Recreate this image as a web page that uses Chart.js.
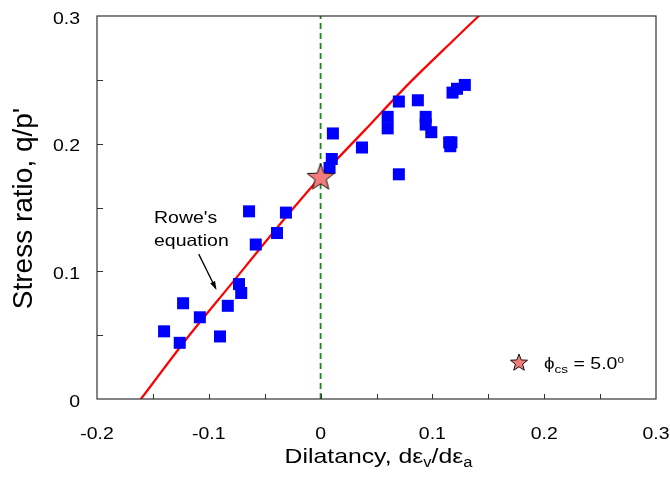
<!DOCTYPE html>
<html>
<head>
<meta charset="utf-8">
<script src="https://cdn.jsdelivr.net/npm/chart.js@4/dist/chart.umd.min.js"></script>
<style>
  body { margin: 0; background: #fff; }
</style>
</head>
<body>
<canvas id="myChart" width="670" height="487"></canvas>
<script>
// measured points (dilatancy vs stress ratio)
const dilatancy = [-0.140, -0.126, -0.123, -0.108, -0.090, -0.083, -0.073, -0.071, -0.064, -0.058,
                   -0.039, -0.031, 0.008, 0.010, 0.011, 0.037, 0.060, 0.060, 0.070, 0.070,
                   0.087, 0.094, 0.094, 0.099, 0.115, 0.117, 0.116, 0.118, 0.122, 0.129];
const stressRatio = [0.053, 0.044, 0.075, 0.064, 0.049, 0.073, 0.090, 0.083, 0.147, 0.121,
                     0.130, 0.146, 0.181, 0.188, 0.208, 0.197, 0.212, 0.221, 0.233, 0.176,
                     0.234, 0.221, 0.215, 0.209, 0.201, 0.201, 0.198, 0.240, 0.243, 0.246];

// Rowe's equation curve
const roweD = [-0.165, -0.12, -0.08, -0.04, 0, 0.04, 0.08, 0.12, 0.145];
const roweQ = [-0.005, 0.047, 0.090, 0.133, 0.174, 0.211, 0.248, 0.282, 0.303];

// critical state point
const csD = [0];
const csQ = [0.174];

// zero dilatancy line
const zeroD = [0, 0];
const zeroQ = [0, 0.3];

const xLabels = [-0.2, -0.1, 0, 0.1, 0.2, 0.3];
const yLabels = [0, 0.1, 0.2, 0.3];
const xMinor = [-0.15, -0.1, -0.05, 0, 0.05, 0.1, 0.15, 0.2, 0.25];
const yMinor = [0.05, 0.1, 0.15, 0.2, 0.25];

const FONT = '"Liberation Sans", Arial, sans-serif';
const SX = 1.18; // text in the picture is a bit wide

function toPoints(xs, ys) {
  return xs.map((x, i) => ({ x: x, y: ys[i] }));
}

function starPath(ctx, cx, cy, R, r) {
  ctx.beginPath();
  for (let i = 0; i < 10; i++) {
    let a = -Math.PI / 2 + i * Math.PI / 5;
    let rad = i % 2 ? r : R;
    let px = cx + rad * Math.cos(a);
    let py = cy + rad * Math.sin(a);
    if (i == 0) ctx.moveTo(px, py); else ctx.lineTo(px, py);
  }
  ctx.closePath();
}

function drawStar(ctx, cx, cy, R) {
  starPath(ctx, cx, cy, R, R * 0.42);
  ctx.fillStyle = '#f37b7b';
  ctx.fill();
  ctx.lineWidth = 1;
  ctx.strokeStyle = '#111';
  ctx.stroke();
}

let starImg = document.createElement('canvas');
starImg.width = 32;
starImg.height = 32;
drawStar(starImg.getContext('2d'), 16, 17, 14);

function wideText(ctx, str, x, y, size, align) {
  ctx.save();
  ctx.font = size + 'px ' + FONT;
  ctx.translate(x, y);
  ctx.scale(SX, 1);
  ctx.textAlign = align || 'left';
  ctx.textBaseline = 'alphabetic';
  ctx.fillText(str, 0, 0);
  ctx.restore();
}

function runsWidth(ctx, runs) {
  let w = 0;
  runs.forEach(function(r) {
    ctx.font = r.size + 'px ' + FONT;
    w += ctx.measureText(r.t).width * SX;
  });
  return w;
}

function drawRuns(ctx, runs, x, y) {
  runs.forEach(function(r) {
    wideText(ctx, r.t, x, y + (r.dy || 0), r.size, 'left');
    ctx.font = r.size + 'px ' + FONT;
    x += ctx.measureText(r.t).width * SX;
  });
}

const sketchPlugin = {
  id: 'sketch',
  afterDraw(chart) {
    let ctx = chart.ctx;
    let a = chart.chartArea;
    let xs = chart.scales.x;
    let ys = chart.scales.y;
    ctx.save();

    // frame
    ctx.strokeStyle = '#333';
    ctx.lineWidth = 1.2;
    ctx.strokeRect(a.left, a.top, a.right - a.left, a.bottom - a.top);

    // inward tick marks
    ctx.beginPath();
    xMinor.forEach(function(v) {
      let px = Math.round(xs.getPixelForValue(v)) + 0.5;
      ctx.moveTo(px, a.bottom);
      ctx.lineTo(px, a.bottom - 5);
    });
    yMinor.forEach(function(v) {
      let py = Math.round(ys.getPixelForValue(v)) + 0.5;
      ctx.moveTo(a.left, py);
      ctx.lineTo(a.left + 6, py);
    });
    ctx.lineWidth = 1;
    ctx.stroke();

    // tick labels
    ctx.fillStyle = '#000';
    xLabels.forEach(function(v) {
      wideText(ctx, String(v), xs.getPixelForValue(v), a.bottom + 40, 16.5, 'center');
    });
    yLabels.forEach(function(v) {
      wideText(ctx, String(v), a.left - 17, ys.getPixelForValue(v) + 7.8, 16.5, 'right');
    });

    // x title with subscripts
    let runs = [
      { t: 'Dilatancy, d\u03b5', size: 21 },
      { t: 'v', size: 14, dy: 4 },
      { t: '/d\u03b5', size: 21 },
      { t: 'a', size: 14, dy: 4 }
    ];
    let w = runsWidth(ctx, runs);
    drawRuns(ctx, runs, (a.left + a.right) / 2 + 2 - w / 2, 463);

    // y title
    ctx.save();
    ctx.translate(32, (a.top + a.bottom) / 2 + 1);
    ctx.rotate(-Math.PI / 2);
    ctx.font = '28px ' + FONT;
    ctx.textAlign = 'center';
    ctx.textBaseline = 'alphabetic';
    ctx.fillText("Stress ratio, q/p'", 0, 0);
    ctx.restore();

    // Rowe's equation note and arrow
    let nx = xs.getPixelForValue(-0.149);
    let ny = ys.getPixelForValue(0.138);
    wideText(ctx, "Rowe's", nx, ny, 16.5, 'left');
    wideText(ctx, 'equation', nx, ny + 23, 16.5, 'left');
    let ax0 = xs.getPixelForValue(-0.109), ay0 = ys.getPixelForValue(0.1135);
    let ax1 = xs.getPixelForValue(-0.094), ay1 = ys.getPixelForValue(0.087);
    ctx.strokeStyle = '#000';
    ctx.lineWidth = 1.3;
    ctx.beginPath();
    ctx.moveTo(ax0, ay0);
    ctx.lineTo(ax1, ay1);
    ctx.stroke();
    let ang = Math.atan2(ay1 - ay0, ax1 - ax0);
    ctx.beginPath();
    ctx.moveTo(ax1 + 1, ay1 + 2);
    ctx.lineTo(ax1 - 7 * Math.cos(ang - 0.4), ay1 - 7 * Math.sin(ang - 0.4));
    ctx.lineTo(ax1 - 7 * Math.cos(ang + 0.4), ay1 - 7 * Math.sin(ang + 0.4));
    ctx.closePath();
    ctx.fillStyle = '#000';
    ctx.fill();

    // legend
    let lx = a.right - 137;
    let ly = a.bottom - 36;
    drawStar(ctx, lx, ly, 9);
    ctx.fillStyle = '#000';
    drawRuns(ctx, [
      { t: '\u03d5', size: 16 },
      { t: 'cs', size: 11.5, dy: 4 },
      { t: ' = 5.0', size: 16.5 },
      { t: 'o', size: 10, dy: -6 }
    ], lx + 25, ly + 6);

    ctx.restore();
  }
};

let ctx = document.getElementById('myChart');
let myChart = new Chart(ctx, {
  type: 'scatter',
  data: {
    datasets: [
      {
        label: 'critical state',
        data: toPoints(csD, csQ),
        pointStyle: starImg,
        order: 0
      },
      {
        label: 'test data',
        data: toPoints(dilatancy, stressRatio),
        pointStyle: 'rect',
        pointRadius: 8.5,
        pointBorderWidth: 0,
        backgroundColor: '#0000ff',
        borderColor: '#0000ff',
        order: 1
      },
      {
        label: "Rowe's equation",
        data: toPoints(roweD, roweQ),
        showLine: true,
        borderColor: '#ff0000',
        borderWidth: 2.2,
        pointRadius: 0,
        tension: 0.3,
        order: 2
      },
      {
        label: 'zero dilatancy',
        data: toPoints(zeroD, zeroQ),
        showLine: true,
        borderColor: '#188a18',
        borderWidth: 1.8,
        borderDash: [6, 4],
        pointRadius: 0,
        order: 3
      }
    ]
  },
  options: {
    responsive: false,
    animation: false,
    layout: { padding: { top: 16, right: 14, left: 0, bottom: 0 } },
    plugins: {
      legend: { display: false },
      tooltip: { enabled: false }
    },
    scales: {
      x: {
        type: 'linear',
        min: -0.2,
        max: 0.3,
        ticks: { display: false },
        grid: { display: false, drawTicks: false },
        border: { display: false },
        afterFit(scale) { scale.height = 88; }
      },
      y: {
        type: 'linear',
        min: 0,
        max: 0.3,
        ticks: { display: false },
        grid: { display: false, drawTicks: false },
        border: { display: false },
        afterFit(scale) { scale.width = 97; }
      }
    }
  },
  plugins: [sketchPlugin]
});
</script>
</body>
</html>
